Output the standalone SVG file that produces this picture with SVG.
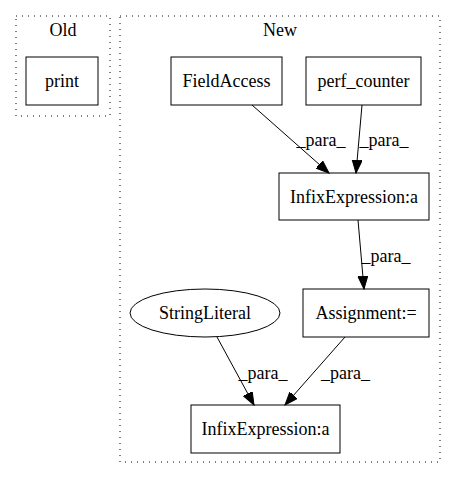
<svg xmlns="http://www.w3.org/2000/svg" width="456" height="480" viewBox="0 0 456 480">
<style>
text{font-family:"Liberation Serif","Times New Roman",serif;font-size:18px;text-anchor:middle;fill:#000}
.cl{fill:none;stroke:#000;stroke-dasharray:1,5}
.nd{fill:none;stroke:#000;stroke-width:1}
.ed{fill:none;stroke:#000;stroke-width:1}
</style>
<defs>
<marker id="ah" markerUnits="userSpaceOnUse" markerWidth="14" markerHeight="11" refX="13" refY="5" orient="auto">
<polygon points="0,0 13,5 0,10" fill="#000" stroke="#000"/>
</marker>
</defs>
<rect width="456" height="480" fill="#fff"/>
<g id="cluster_old">
<rect class="cl" x="16" y="16" width="94" height="100"/>
<text x="63" y="36">Old</text>
</g>
<g id="cluster_new">
<rect class="cl" x="120" y="16" width="320" height="446"/>
<text x="280" y="36">New</text>
</g>
<g id="node_print">
<rect class="nd" x="26" y="57" width="72" height="48"/>
<text x="62" y="87">print</text>
</g>
<g id="node_fieldaccess">
<rect class="nd" x="171" y="57" width="111" height="48"/>
<text x="226.5" y="87">FieldAccess</text>
</g>
<g id="node_perf_counter">
<rect class="nd" x="306" y="57" width="115" height="48"/>
<text x="363.5" y="87">perf_counter</text>
</g>
<g id="node_infix1">
<rect class="nd" x="279" y="173" width="150" height="47"/>
<text x="354" y="202.5">InfixExpression:a</text>
</g>
<g id="node_assignment">
<rect class="nd" x="303" y="289" width="126" height="48"/>
<text x="366" y="319">Assignment:=</text>
</g>
<g id="node_stringliteral">
<ellipse class="nd" cx="205" cy="313" rx="75" ry="24"/>
<text x="205" y="319">StringLiteral</text>
</g>
<g id="node_infix2">
<rect class="nd" x="191" y="405" width="149" height="48"/>
<text x="265.5" y="435">InfixExpression:a</text>
</g>
<g id="edges">
<line class="ed" x1="252" y1="105" x2="329" y2="173" marker-end="url(#ah)"/>
<text x="321" y="146">_para_</text>
<line class="ed" x1="362" y1="105" x2="356" y2="173" marker-end="url(#ah)"/>
<text x="384" y="146">_para_</text>
<line class="ed" x1="358" y1="220" x2="364" y2="289" marker-end="url(#ah)"/>
<text x="386" y="262">_para_</text>
<line class="ed" x1="217" y1="337" x2="254" y2="405" marker-end="url(#ah)"/>
<text x="263" y="379">_para_</text>
<line class="ed" x1="345" y1="337" x2="285" y2="405" marker-end="url(#ah)"/>
<text x="345.5" y="379">_para_</text>
</g>
</svg>
